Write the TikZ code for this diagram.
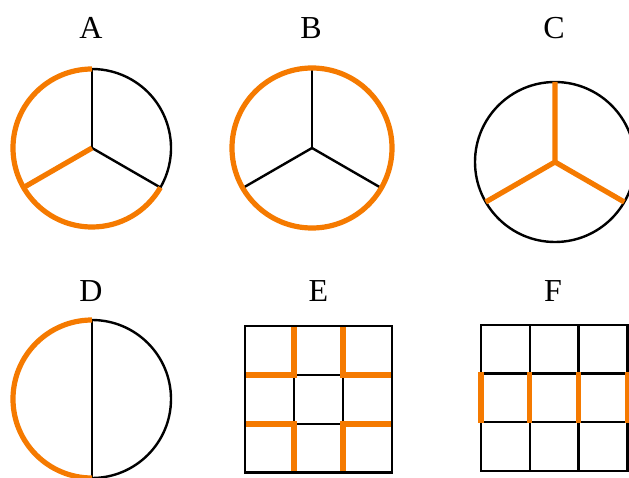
\documentclass[tikz,border=0pt]{standalone}
\usepackage{fontspec}
\setmainfont{Liberation Serif}
\definecolor{hl}{RGB}{245,122,0}
\begin{document}
\begin{tikzpicture}[x=1pt,y=1pt,
  blk/.style={draw=black,line width=2.4pt},
  org/.style={draw=hl,line width=5.2pt},
  lbl/.style={font=\fontsize{32}{38}\selectfont,anchor=base,inner sep=0pt}]
\useasboundingbox (0,0) rectangle (629,477);
\clip (0,0) rectangle (629,477);
% labels
\node[lbl] (la) at (91,438.7) {A};
\node[lbl] (lb) at (311,438.7) {B};
\node[lbl] (lc) at (554,438.7) {C};
\node[lbl] (ld) at (91,175.3) {D};
\node[lbl] (le) at (318.5,175.3) {E};
\node[lbl] (lf) at (553,175.3) {F};
% centres
\coordinate (A) at (92,329);
\coordinate (B) at (312,329);
\coordinate (C) at (555,315);
\coordinate (D) at (92,78);
% A
\draw[blk] (A) ++(-30:79pt) arc[start angle=-30,end angle=90,radius=79pt];
\draw[blk] (A) -- ++(90:79pt);
\draw[blk] (A) -- ++(-30:79pt);
\draw[org] (A) ++(90:79pt) arc[start angle=90,end angle=330,radius=79pt];
\draw[org] (A) -- ++(210:79pt);
% B
\draw[blk] (B) -- ++(90:80pt);
\draw[blk] (B) -- ++(210:80pt);
\draw[blk] (B) -- ++(-30:80pt);
\draw[org] (B) circle[radius=80pt];
% C
\draw[blk] (C) circle[radius=80pt];
\draw[org,line join=round] (C) ++(90:80pt) -- (C) -- ++(210:80pt);
\draw[org] (C) -- ++(-30:80pt);
% D
\draw[blk] (D) ++(-90:79pt) arc[start angle=-90,end angle=90,radius=79pt];
\draw[blk] (D) ++(90:79pt) -- ++(0,-158pt);
\draw[org] (D) ++(90:79pt) arc[start angle=90,end angle=270,radius=79pt];
% E
\draw[blk] (294,102) rectangle (343,53);
\draw[org] (294,151) -- (294,102) -- (245,102);
\draw[org] (343,151) -- (343,102) -- (392,102);
\draw[org] (245,53) -- (294,53) -- (294,4.5);
\draw[org] (392,53) -- (343,53) -- (343,4.5);
\draw[blk] (245,151) rectangle (392,4.5);
% F
\draw[blk] (481,152) rectangle (627.3,6.3);
\draw[blk] (529.8,152) -- (529.8,6.3);
\draw[blk] (578.5,152) -- (578.5,6.3);
\draw[blk] (481,103.5) -- (627.3,103.5);
\draw[blk] (481,55) -- (627.3,55);
\foreach \x in {481,529.8,578.5,627.3}
  \draw[org] (\x,104.7) -- (\x,53.8);
\end{tikzpicture}
\end{document}
